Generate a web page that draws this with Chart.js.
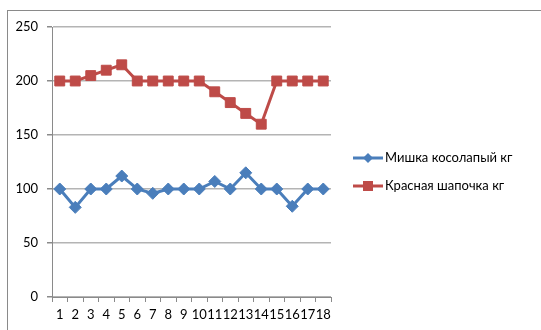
<!DOCTYPE html>
<html>
<head>
<meta charset="utf-8">
<script src="https://cdn.jsdelivr.net/npm/chart.js@4/dist/chart.umd.min.js"></script>
<style>
  html, body { margin: 0; padding: 0; background: #fff; }
  #wrap { width: 541px; height: 330px; position: relative; }
</style>
</head>
<body>
<div id="wrap"><canvas id="c" width="541" height="330"></canvas></div>
<script>
// Days 1..18
const categories = ['1','2','3','4','5','6','7','8','9','10','11','12','13','14','15','16','17','18'];
// Weight of the bear, kg
const bearValues = [100, 83, 100, 100, 112, 100, 96, 100, 100, 100, 107, 100, 115, 100, 100, 84, 100, 100];
// Weight of Little Red Riding Hood, kg
const hoodValues = [200, 200, 205, 210, 215, 200, 200, 200, 200, 200, 190, 180, 170, 160, 200, 200, 200, 200];
const seriesNames = ['Мишка косолапый кг', 'Красная шапочка кг'];
const yTicks = [0, 50, 100, 150, 200, 250];

const BLUE = '#4A7EBB';
const RED = '#BE4B48';
const FONT = 'Lato, "Open Sans", sans-serif';

// Outer chart frame
const framePlugin = {
  id: 'frame',
  beforeDraw(chart) {
    const ctx = chart.ctx;
    ctx.save();
    ctx.strokeStyle = '#8a8a8a';
    ctx.lineWidth = 1;
    ctx.strokeRect(7.5, 10.5, 700, 500);
    ctx.restore();
  }
};

// Legend drawn as line + marker, like a spreadsheet legend
const sideLegend = {
  id: 'sideLegend',
  afterDraw(chart) {
    const ctx = chart.ctx;
    const x0 = 353, x1 = 383, rows = [158, 186];
    ctx.save();
    chart.data.datasets.forEach((ds, i) => {
      const y = rows[i];
      ctx.strokeStyle = ds.borderColor;
      ctx.lineWidth = 3;
      ctx.beginPath();
      ctx.moveTo(x0, y);
      ctx.lineTo(x1, y);
      ctx.stroke();
      ctx.fillStyle = ds.backgroundColor;
      const cx = (x0 + x1) / 2;
      if (ds.pointStyle === 'rect') {
        ctx.fillRect(cx - 5, y - 5, 10, 10);
      } else {
        ctx.beginPath();
        ctx.moveTo(cx, y - 5);
        ctx.lineTo(cx + 5, y);
        ctx.lineTo(cx, y + 5);
        ctx.lineTo(cx - 5, y);
        ctx.closePath();
        ctx.fill();
      }
      ctx.fillStyle = '#000';
      ctx.font = '13px ' + FONT;
      ctx.textBaseline = 'middle';
      ctx.textAlign = 'left';
      ctx.fillText(ds.label, x1 + 2, y);
    });
    ctx.restore();
  }
};

new Chart(document.getElementById('c'), {
  type: 'line',
  data: {
    labels: categories,
    datasets: [
      {
        label: seriesNames[0],
        data: bearValues,
        borderColor: BLUE,
        backgroundColor: BLUE,
        borderWidth: 3,
        pointStyle: 'rectRot',
        pointRadius: 6,
        pointBorderWidth: 1,
        pointBackgroundColor: BLUE,
        pointBorderColor: BLUE,
        tension: 0
      },
      {
        label: seriesNames[1],
        data: hoodValues,
        borderColor: RED,
        backgroundColor: RED,
        borderWidth: 3,
        pointStyle: 'rect',
        pointRadius: 7,
        pointBorderWidth: 1,
        pointBackgroundColor: RED,
        pointBorderColor: RED,
        tension: 0
      }
    ]
  },
  options: {
    responsive: false,
    animation: false,
    devicePixelRatio: 1,
    layout: { padding: { left: 0, top: 27, right: 210, bottom: 0 } },
    plugins: {
      legend: { display: false },
      tooltip: { enabled: false }
    },
    scales: {
      x: {
        offset: true,
        grid: {
          offset: true,
          drawOnChartArea: false,
          drawTicks: true,
          tickLength: 5,
          color: '#8a8a8a'
        },
        border: { color: '#8a8a8a', width: 1 },
        ticks: {
          color: '#000',
          font: { family: FONT, size: 13 },
          padding: 5,
          maxRotation: 0,
          autoSkip: false
        },
        afterFit(s) { s.height = 33; }
      },
      y: {
        min: 0,
        max: 250,
        afterBuildTicks(s) { s.ticks = yTicks.map(v => ({ value: v })); },
        grid: {
          color: '#b4b4b4',
          lineWidth: 1.5,
          drawTicks: true,
          tickLength: 5,
          tickColor: '#8a8a8a'
        },
        border: { color: '#8a8a8a', width: 1 },
        ticks: {
          color: '#000',
          font: { family: FONT, size: 13 },
          padding: 9
        },
        afterFit(s) { s.width = 52; }
      }
    }
  },
  plugins: [framePlugin, sideLegend]
});
</script>
</body>
</html>
